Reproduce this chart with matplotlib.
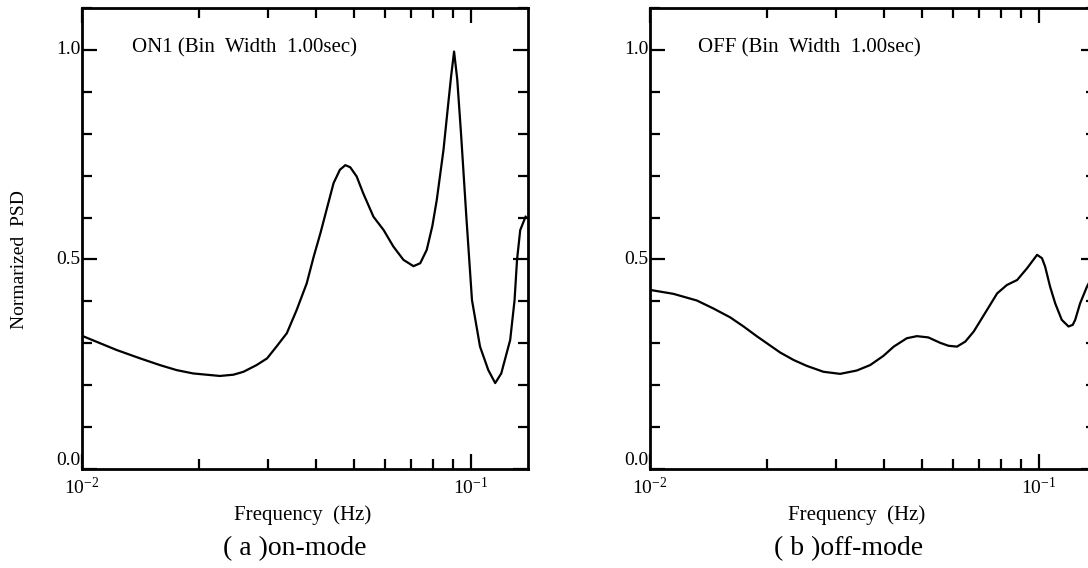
import numpy as np
import matplotlib
matplotlib.use('Agg')
import matplotlib.pyplot as plt
from matplotlib.ticker import FixedLocator, NullFormatter, MultipleLocator

plt.rcParams['font.family'] = ['Liberation Serif', 'DejaVu Serif']
plt.rcParams['mathtext.fontset'] = 'custom'
plt.rcParams['mathtext.rm'] = 'Liberation Serif'
plt.rcParams['mathtext.it'] = 'Liberation Serif:italic'

# ON1 (on-mode)
freq_on = [0.01005, 0.01227, 0.0141, 0.01585, 0.0175, 0.0193, 0.0226, 0.0245,
           0.026, 0.0281, 0.0299, 0.0316, 0.0336, 0.0356, 0.0378, 0.0394,
           0.041, 0.0443, 0.046, 0.0475, 0.0489, 0.0508, 0.0528, 0.0561,
           0.0596, 0.0631, 0.067, 0.0711, 0.074, 0.0769, 0.0795, 0.0816,
           0.0849, 0.0870, 0.0888, 0.0904, 0.0921, 0.0942, 0.0972, 0.1005,
           0.1054, 0.1107, 0.1153, 0.1195, 0.126, 0.1293, 0.1312, 0.1337,
           0.1380]
psd_on = [0.317, 0.284, 0.264, 0.248, 0.236, 0.228, 0.222, 0.225,
          0.232, 0.248, 0.264, 0.292, 0.324, 0.379, 0.443, 0.507,
          0.563, 0.682, 0.714, 0.725, 0.720, 0.698, 0.658, 0.602,
          0.570, 0.531, 0.499, 0.484, 0.491, 0.523, 0.580, 0.642,
          0.761, 0.857, 0.936, 0.996, 0.930, 0.800, 0.602, 0.403,
          0.292, 0.236, 0.205, 0.228, 0.308, 0.403, 0.499, 0.570,
          0.602]

# OFF (off-mode)
freq_off = [0.01005, 0.01148, 0.0132, 0.01455, 0.01606, 0.0174, 0.0188, 0.0216,
            0.0234, 0.0253, 0.0279, 0.0308, 0.034, 0.0368, 0.0398, 0.0423,
            0.0457, 0.0485, 0.0519, 0.0557, 0.0585, 0.0615, 0.0646, 0.0679,
            0.0734, 0.078, 0.0826, 0.0878, 0.0931, 0.0988, 0.1017, 0.1036,
            0.1067, 0.110, 0.1143, 0.119, 0.122, 0.1238, 0.1274, 0.1327,
            0.1380]
psd_off = [0.427, 0.418, 0.402, 0.383, 0.362, 0.340, 0.317, 0.278,
           0.260, 0.246, 0.232, 0.227, 0.235, 0.248, 0.270, 0.292,
           0.312, 0.317, 0.314, 0.301, 0.294, 0.292, 0.304, 0.328,
           0.379, 0.419, 0.439, 0.451, 0.479, 0.511, 0.503, 0.483,
           0.435, 0.395, 0.356, 0.340, 0.344, 0.356, 0.395, 0.435,
           0.465]

panels = [
    (freq_on, psd_on, 'ON1 (Bin  Width  1.00sec)', '( a )on-mode'),
    (freq_off, psd_off, 'OFF (Bin  Width  1.00sec)', '( b )off-mode'),
]

W, H = 1088.0, 568.0
fig = plt.figure(figsize=(10.88, 5.68), dpi=100)

ax_left = [82, 650]
label_x = [303, 857]
for i, (f, p, title, cap) in enumerate(panels):
    ax = fig.add_axes([ax_left[i] / W, (H - 469) / H, 446 / W, 461 / H])
    ax.plot(f, p, color='black', lw=1.6)
    ax.set_xscale('log')
    ax.set_xlim(0.01, 0.14)
    ax.set_ylim(0.0, 1.1)

    ax.xaxis.set_major_locator(FixedLocator([0.01, 0.1]))
    ax.xaxis.set_minor_locator(FixedLocator([k * 0.01 for k in range(2, 10)]))
    ax.xaxis.set_minor_formatter(NullFormatter())
    ax.set_xticklabels(['10$^{-2}$', '10$^{-1}$'])
    ax.yaxis.set_major_locator(FixedLocator([0.0, 0.5, 1.0]))
    ax.yaxis.set_minor_locator(MultipleLocator(0.1))
    ax.set_yticklabels(['0.0', '0.5', '1.0'])

    ax.tick_params(which='both', direction='in', top=True, right=True,
                   width=1.6, labelsize=14)
    ax.tick_params(which='major', length=11)
    ax.tick_params(which='minor', length=7)
    ax.tick_params(axis='x', pad=6)
    ax.tick_params(axis='y', pad=1)
    for lab in ax.get_yticklabels():
        lab.set_verticalalignment('bottom' if lab.get_text() == '0.0' else 'center')
    for s in ax.spines.values():
        s.set_linewidth(2.0)

    ax.text(0.113 if i == 0 else 0.108, 0.913, title, transform=ax.transAxes,
            fontsize=15, ha='left', va='center')

    fig.text(label_x[i] / W, 1 - 515 / H, 'Frequency  (Hz)', fontsize=15,
             ha='center', va='center')
    fig.text((label_x[i] - 8) / W, 1 - 549 / H, cap, fontsize=20,
             ha='center', va='center')

fig.text(20 / W, 1 - 260 / H, 'Normarized  PSD', rotation=90, fontsize=14,
         ha='center', va='center')

plt.savefig('out.png', dpi=100)
plt.close()
